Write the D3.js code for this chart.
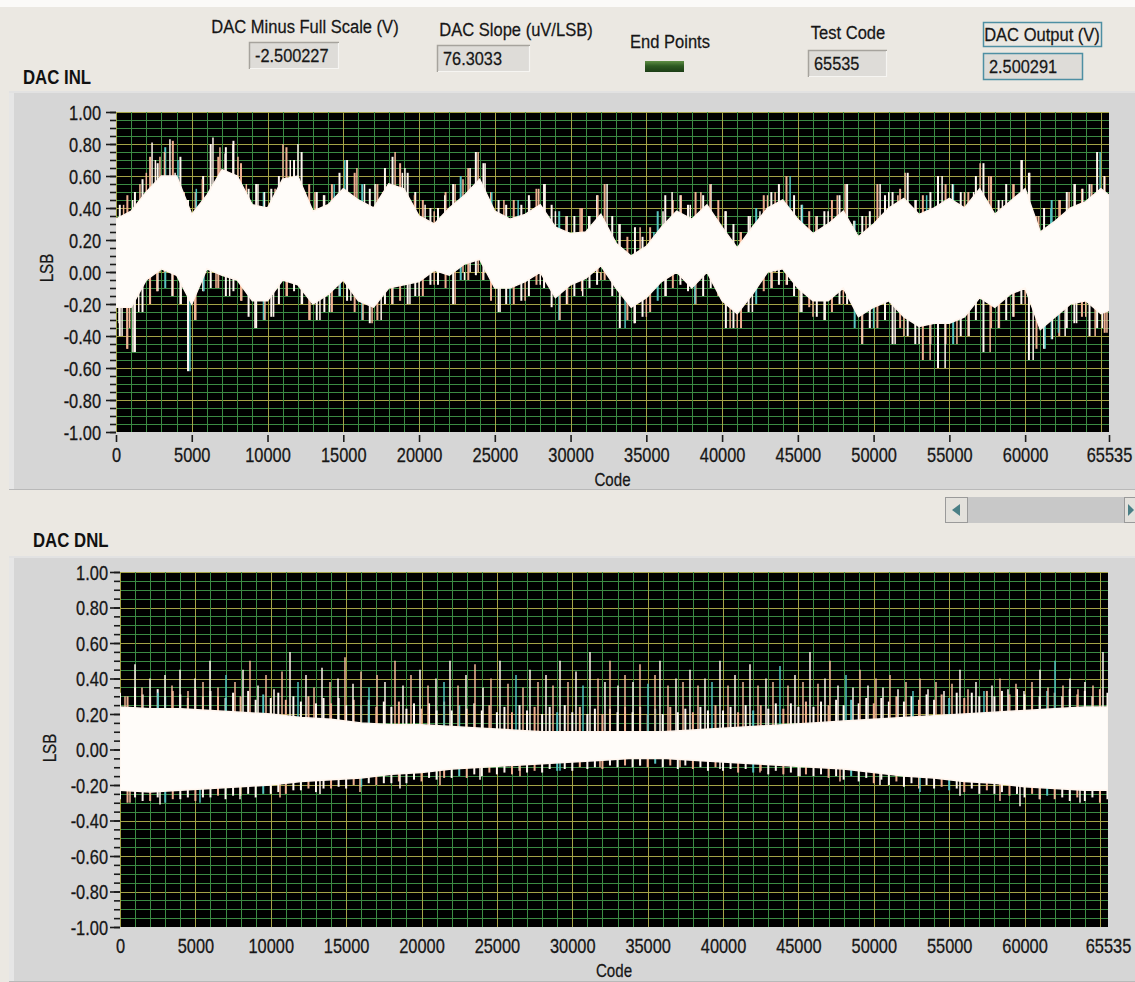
<!DOCTYPE html>
<html><head><meta charset="utf-8">
<script src="https://cdn.jsdelivr.net/npm/d3@7"></script>
<style>
html,body{margin:0;padding:0;background:#ebe8e2;overflow:hidden;}
svg{display:block;}
</style></head><body>
<svg id="c" width="1135" height="982"></svg>
<script>
// ---------------- DATA ----------------
const xTickValues = [0,5000,10000,15000,20000,25000,30000,35000,40000,45000,50000,55000,60000,65535];
const yTickValues = [1,0.8,0.6,0.4,0.2,0,-0.2,-0.4,-0.6,-0.8,-1];

const headerLabels = ["DAC Minus Full Scale (V)","DAC Slope (uV/LSB)","End Points","Test Code","DAC Output (V)"];
const headerValues = ["-2.500227","76.3033","","65535","2.500291"];

// INL solid core band, every 1000 codes
const inlCodes = [0,1000,2000,3000,4000,5000,6000,7000,8000,9000,10000,11000,12000,13000,14000,15000,16000,17000,18000,19000,20000,21000,22000,23000,24000,25000,26000,27000,28000,29000,30000,31000,32000,33000,34000,35000,36000,37000,38000,39000,40000,41000,42000,43000,44000,45000,46000,47000,48000,49000,50000,51000,52000,53000,54000,55000,56000,57000,58000,59000,60000,61000,62000,63000,64000,65000,65535];
const inlTop = [0.33,0.38,0.5,0.6,0.6,0.36,0.48,0.64,0.6,0.42,0.4,0.58,0.6,0.38,0.42,0.52,0.45,0.4,0.55,0.52,0.35,0.3,0.4,0.48,0.58,0.38,0.33,0.36,0.42,0.28,0.24,0.25,0.36,0.18,0.1,0.16,0.28,0.38,0.33,0.42,0.28,0.15,0.28,0.4,0.45,0.33,0.24,0.3,0.38,0.22,0.3,0.4,0.46,0.36,0.4,0.46,0.4,0.52,0.36,0.44,0.52,0.25,0.32,0.4,0.44,0.52,0.48];
const inlBottom = [-0.22,-0.22,-0.05,0.02,-0.02,-0.2,0.02,-0.02,-0.05,-0.18,-0.18,-0.05,-0.08,-0.2,-0.14,-0.05,-0.18,-0.22,-0.1,-0.08,-0.06,0.01,-0.02,0.05,0.08,-0.1,-0.1,-0.06,0,-0.16,-0.08,-0.04,0.04,-0.1,-0.22,-0.16,-0.06,0,-0.1,0,-0.18,-0.26,-0.14,0,0.02,-0.1,-0.18,-0.18,-0.1,-0.28,-0.22,-0.18,-0.28,-0.34,-0.32,-0.32,-0.28,-0.16,-0.22,-0.14,-0.1,-0.36,-0.28,-0.2,-0.18,-0.26,-0.24];
// INL ragged outer envelope, every 500 codes (codes 250, 750, ... 65250)
const inlFringeTop = [0.42,0.48,0.5,0.58,0.72,0.68,0.78,0.82,0.72,0.45,0.5,0.6,0.8,0.72,0.78,0.82,0.68,0.52,0.55,0.5,0.52,0.6,0.78,0.7,0.75,0.55,0.5,0.48,0.55,0.62,0.7,0.62,0.55,0.52,0.55,0.65,0.72,0.68,0.62,0.5,0.45,0.4,0.4,0.5,0.55,0.6,0.65,0.75,0.68,0.5,0.45,0.42,0.45,0.42,0.48,0.52,0.55,0.42,0.38,0.35,0.35,0.4,0.35,0.48,0.55,0.35,0.3,0.22,0.28,0.22,0.28,0.38,0.48,0.45,0.48,0.42,0.5,0.48,0.55,0.45,0.38,0.3,0.25,0.35,0.4,0.48,0.5,0.55,0.6,0.48,0.42,0.38,0.35,0.38,0.45,0.48,0.55,0.32,0.35,0.38,0.55,0.48,0.5,0.52,0.62,0.45,0.48,0.5,0.6,0.55,0.55,0.5,0.5,0.6,0.68,0.6,0.45,0.55,0.55,0.7,0.62,0.35,0.4,0.45,0.45,0.5,0.55,0.52,0.55,0.75,0.6];
const inlFringeBottom = [-0.4,-0.48,-0.5,-0.25,-0.2,-0.12,-0.1,-0.15,-0.2,-0.62,-0.3,-0.12,-0.1,-0.1,-0.15,-0.12,-0.18,-0.28,-0.35,-0.3,-0.28,-0.2,-0.15,-0.12,-0.2,-0.3,-0.3,-0.25,-0.25,-0.15,-0.18,-0.25,-0.3,-0.32,-0.3,-0.2,-0.2,-0.18,-0.2,-0.15,-0.15,-0.08,-0.08,-0.1,-0.2,-0.05,-0.05,-0.02,-0.05,-0.18,-0.25,-0.2,-0.2,-0.18,-0.15,-0.08,-0.1,-0.22,-0.3,-0.2,-0.15,-0.12,-0.1,-0.08,-0.05,-0.15,-0.35,-0.3,-0.32,-0.28,-0.25,-0.18,-0.15,-0.1,-0.08,-0.12,-0.2,-0.15,-0.1,-0.15,-0.35,-0.35,-0.35,-0.25,-0.2,-0.12,-0.1,-0.08,-0.08,-0.15,-0.25,-0.22,-0.28,-0.3,-0.25,-0.2,-0.2,-0.35,-0.45,-0.35,-0.35,-0.3,-0.45,-0.35,-0.4,-0.45,-0.55,-0.45,-0.6,-0.45,-0.45,-0.4,-0.4,-0.3,-0.5,-0.35,-0.35,-0.3,-0.28,-0.2,-0.55,-0.48,-0.48,-0.42,-0.4,-0.35,-0.32,-0.28,-0.4,-0.35,-0.38];
// INL tall individual spikes [code, LSB]
const inlSpikes = [[1580,0.55],[2380,0.81],[2900,0.72],[3560,0.83],[4090,0.7],[6400,0.84],[6860,0.78],[7720,0.8],[8050,0.72],[9370,0.55],[11020,0.8],[12010,0.8],[13130,0.5],[15100,0.7],[15900,0.65],[17100,0.55],[18420,0.75],[19070,0.65],[22380,0.55],[23370,0.65],[23900,0.75],[24360,0.68],[26540,0.45],[28320,0.55],[30630,0.4],[32410,0.55],[34590,0.28],[36700,0.5],[39210,0.55],[41850,0.35],[43500,0.5],[44490,0.6],[48120,0.55],[50430,0.55],[52080,0.62],[54520,0.6],[57030,0.68],[59800,0.7],[62310,0.45],[63300,0.55],[64950,0.75],[65220,0.6],
[500,0.42],[1100,0.45],[2000,0.62],[2600,0.7],[3200,0.75],[3900,0.62],[4500,0.5],[5300,0.52],[5700,0.58],[7200,0.74],[8600,0.55],[9800,0.5],[10500,0.52],[11500,0.7],[12500,0.5],[13700,0.48],[14400,0.55],[16400,0.55],[17600,0.5],[18900,0.62],[19700,0.48],[20400,0.42],[21000,0.38],[21700,0.48],[22900,0.58],[24800,0.5],[25600,0.45],[27300,0.45],[27900,0.52],[29000,0.38],[29700,0.35],[31200,0.35],[31800,0.48],[33200,0.3],[35500,0.25],[36100,0.38],[37300,0.48],[37900,0.42],[38600,0.5],[40200,0.38],[41200,0.25],[42500,0.38],[43000,0.48],[45300,0.42],[46200,0.35],[47000,0.38],[47600,0.48],[48700,0.32],[49500,0.35],[51000,0.5],[51600,0.48],[52800,0.45],[53500,0.48],[55200,0.55],[56000,0.5],[56600,0.5],[57600,0.6],[58500,0.45],[59200,0.55],[60300,0.62],[60900,0.35],[61700,0.4],[62900,0.5],[63800,0.52],[64400,0.55],
[400,-0.4],[730,-0.48],[1120,-0.5],[2240,-0.2],[3700,-0.15],[4880,-0.62],[9170,-0.35],[9830,-0.3],[13460,-0.3],[16900,-0.32],[19400,-0.2],[22380,-0.2],[25350,-0.25],[29300,-0.3],[33600,-0.35],[40530,-0.35],[45150,-0.25],[49240,-0.45],[51420,-0.45],[53730,-0.55],[54720,-0.6],[57690,-0.5],[60530,-0.55],[61320,-0.48],[62640,-0.4],[64620,-0.4],
[200,-0.32],[900,-0.35],[1500,-0.25],[2700,-0.12],[4300,-0.2],[5200,-0.3],[5800,-0.12],[6600,-0.1],[7500,-0.15],[8300,-0.18],[10400,-0.28],[11300,-0.15],[12300,-0.2],[12800,-0.3],[14100,-0.25],[14800,-0.15],[15500,-0.18],[16300,-0.3],[17500,-0.3],[18200,-0.2],[20000,-0.15],[21000,-0.08],[23000,-0.05],[24200,-0.05],[26000,-0.2],[27000,-0.18],[28000,-0.08],[29800,-0.2],[30800,-0.15],[32000,-0.05],[34200,-0.32],[35000,-0.28],[36300,-0.15],[38200,-0.2],[39600,-0.1],[41000,-0.35],[42000,-0.25],[43300,-0.1],[44300,-0.08],[46000,-0.28],[46800,-0.3],[48000,-0.2],[50000,-0.35],[52000,-0.4],[53000,-0.45],[55500,-0.45],[56300,-0.4],[58300,-0.35],[59200,-0.28],[60000,-0.2],[61800,-0.42],[62200,-0.38],[63400,-0.32],[64000,-0.28],[65100,-0.35],[65400,-0.38]];

// DNL solid core band, every 2000 codes
const dnlCodes = [0,2000,4000,6000,8000,10000,12000,14000,16000,18000,20000,22000,24000,26000,28000,30000,32000,34000,36000,38000,40000,42000,44000,46000,48000,50000,52000,54000,56000,58000,60000,62000,64000,65535];
const dnlTop = [0.24,0.23,0.23,0.22,0.21,0.2,0.18,0.17,0.15,0.14,0.14,0.13,0.12,0.11,0.1,0.1,0.1,0.1,0.1,0.11,0.12,0.13,0.14,0.15,0.16,0.17,0.18,0.19,0.2,0.21,0.22,0.23,0.24,0.24];
const dnlBottom = [-0.23,-0.24,-0.23,-0.22,-0.21,-0.2,-0.18,-0.17,-0.16,-0.14,-0.13,-0.11,-0.1,-0.09,-0.08,-0.07,-0.06,-0.05,-0.05,-0.06,-0.07,-0.08,-0.09,-0.1,-0.11,-0.13,-0.15,-0.16,-0.18,-0.19,-0.21,-0.22,-0.23,-0.23];
// DNL ragged outer envelope, every 500 codes (codes 0, 500, ... 65500)
const dnlFringeTop = [0.32,0.3,0.35,0.31,0.3,0.34,0.3,0.33,0.31,0.29,0.34,0.3,0.33,0.3,0.29,0.32,0.3,0.33,0.28,0.31,0.29,0.32,0.28,0.3,0.27,0.3,0.26,0.29,0.26,0.29,0.25,0.28,0.25,0.28,0.24,0.27,0.24,0.27,0.23,0.26,0.23,0.26,0.22,0.27,0.22,0.25,0.23,0.26,0.22,0.25,0.21,0.24,0.21,0.25,0.22,0.24,0.2,0.24,0.21,0.25,0.21,0.24,0.2,0.23,0.2,0.23,0.21,0.24,0.21,0.24,0.2,0.23,0.2,0.24,0.21,0.23,0.21,0.24,0.22,0.25,0.22,0.24,0.21,0.25,0.22,0.25,0.23,0.26,0.23,0.26,0.24,0.27,0.24,0.27,0.25,0.28,0.25,0.28,0.26,0.29,0.26,0.29,0.27,0.3,0.27,0.3,0.28,0.31,0.28,0.31,0.29,0.32,0.29,0.32,0.3,0.33,0.3,0.33,0.31,0.34,0.31,0.34,0.3,0.33,0.32,0.3,0.34,0.31,0.33,0.3,0.34,0.32];
const dnlFringeBottom = [-0.28,-0.3,-0.27,-0.29,-0.29,-0.27,-0.3,-0.28,-0.28,-0.27,-0.29,-0.27,-0.27,-0.26,-0.28,-0.26,-0.26,-0.25,-0.27,-0.25,-0.25,-0.24,-0.25,-0.23,-0.23,-0.22,-0.24,-0.22,-0.22,-0.21,-0.22,-0.2,-0.21,-0.19,-0.2,-0.19,-0.19,-0.18,-0.19,-0.17,-0.18,-0.16,-0.17,-0.16,-0.16,-0.15,-0.16,-0.14,-0.15,-0.13,-0.14,-0.13,-0.14,-0.12,-0.13,-0.12,-0.13,-0.11,-0.12,-0.11,-0.12,-0.1,-0.11,-0.1,-0.11,-0.09,-0.1,-0.09,-0.1,-0.09,-0.1,-0.08,-0.1,-0.09,-0.11,-0.09,-0.11,-0.1,-0.12,-0.1,-0.12,-0.11,-0.13,-0.11,-0.13,-0.12,-0.14,-0.12,-0.14,-0.13,-0.15,-0.14,-0.15,-0.14,-0.16,-0.15,-0.17,-0.15,-0.18,-0.16,-0.19,-0.17,-0.2,-0.18,-0.21,-0.19,-0.22,-0.2,-0.22,-0.21,-0.23,-0.22,-0.24,-0.22,-0.25,-0.23,-0.25,-0.24,-0.26,-0.25,-0.27,-0.25,-0.28,-0.26,-0.28,-0.27,-0.29,-0.27,-0.29,-0.27,-0.3,-0.28];
const dnlSpikes = [[332,0.3],[995,0.48],[1459,0.35],[1990,0.4],[2521,0.32],[2985,0.42],[3449,0.36],[3980,0.45],[4510,0.33],[4975,0.4],[5505,0.38],[5970,0.5],[6500,0.35],[7031,0.42],[7628,0.38],[8159,0.45],[8623,0.5],[9154,0.36],[9685,0.42],[10215,0.34],[10746,0.44],[11277,0.55],[11807,0.38],[12338,0.42],[12869,0.35],[13399,0.46],[13930,0.38],[14461,0.4],[14924,0.52],[15455,0.37],[15986,0.44],[16516,0.35],[17047,0.42],[17577,0.38],[18241,0.5],[18771,0.36],[19302,0.42],[19899,0.45],[20430,0.36],[20960,0.4],[21491,0.38],[21889,0.5],[22420,0.36],[22950,0.42],[23547,0.48],[24078,0.35],[24608,0.4],[25205,0.5],[25736,0.37],[26267,0.42],[26731,0.35],[27195,0.45],[27726,0.38],[28257,0.42],[28721,0.36],[29186,0.5],[29716,0.38],[30247,0.44],[30711,0.36],[31175,0.55],[31706,0.4],[32170,0.38],[32502,0.5],[33033,0.36],[33497,0.42],[34027,0.38],[34492,0.48],[35022,0.37],[35487,0.42],[35818,0.5],[36349,0.36],[36880,0.4],[37344,0.38],[37808,0.45],[38339,0.36],[38803,0.4],[39267,0.38],[39798,0.5],[40329,0.36],[40793,0.42],[41324,0.38],[41788,0.48],[42319,0.36],[42849,0.4],[43313,0.38],[43778,0.47],[44308,0.36],[44772,0.42],[45303,0.38],[45768,0.55],[46298,0.37],[46763,0.4],[47094,0.5],[47625,0.36],[48156,0.42],[48620,0.35],[49084,0.45],[49615,0.36],[50145,0.4],[50610,0.35],[51074,0.42],[51605,0.34],[52135,0.38],[52600,0.33],[53064,0.4],[53595,0.34],[54125,0.38],[54656,0.33],[55187,0.37],[55717,0.45],[56248,0.34],[56779,0.38],[57309,0.33],[57840,0.36],[58370,0.4],[58901,0.34],[59432,0.37],[59962,0.33],[60493,0.38],[61024,0.45],[61554,0.35],[62019,0.5],[62549,0.36],[63014,0.4],[63544,0.34],[64008,0.38],[64539,0.36],[65202,0.55],
[663,-0.3],[2653,-0.31],[5306,-0.3],[7960,-0.28],[10613,-0.27],[13266,-0.25],[15919,-0.24],[18572,-0.22],[21226,-0.2],[23879,-0.17],[26532,-0.15],[29185,-0.12],[31838,-0.1],[34492,-0.09],[37145,-0.1],[39798,-0.11],[42451,-0.13],[45104,-0.15],[47758,-0.18],[50411,-0.2],[53064,-0.24],[55717,-0.26],[58370,-0.29],[59697,-0.32],[61024,-0.28],[63677,-0.3],[65003,-0.29]];

// ---------------- FONT HANDLING ----------------
const FAM = '"Liberation Sans", Arial, sans-serif';
const svg = d3.select('#c');
function txt(parent, x, y, s, o){
  o = o||{};
  const sx = o.sx||0.84;
  return parent.append('text')
    .attr('transform', 'translate('+x+','+y+') rotate('+(o.rotate||0)+') scale('+sx+',1)')
    .attr('text-anchor', o.anchor||'start')
    .attr('font-family', FAM).attr('font-size', o.size||19)
    .attr('font-weight', o.weight||'normal')
    .attr('fill', o.fill||'#161616')
    .attr('stroke', o.weight==='bold'?'none':(o.fill||'#161616')).attr('stroke-width',0.25)
    .text(s);
}

// ---------------- BACKGROUND ----------------
svg.append('rect').attr('width',1135).attr('height',982).attr('fill','#ebe8e2');
svg.append('rect').attr('width',1135).attr('height',7).attr('fill','#fbfaf8');

function panel(y,h){
  svg.append('rect').attr('x',9).attr('y',y).attr('width',1126).attr('height',h).attr('fill','#d6d6d6');
  svg.append('rect').attr('x',9).attr('y',y).attr('width',5).attr('height',h).attr('fill','#e6e6e6');
  svg.append('rect').attr('x',9).attr('y',y).attr('width',1126).attr('height',2).attr('fill','#e2e2e2');
  svg.append('rect').attr('x',9).attr('y',y+h-1).attr('width',1126).attr('height',1).attr('fill','#b9b9b9');
}
panel(91,399);
panel(556,426);

// ---------------- HEADER ----------------
function valueBox(x,y,w,h,val,teal){
  svg.append('rect').attr('x',x).attr('y',y).attr('width',w).attr('height',h).attr('fill','#dedcd8');
  if(teal){
    svg.append('rect').attr('x',x+0.5).attr('y',y+0.5).attr('width',w-1).attr('height',h-1)
      .attr('fill','none').attr('stroke','#4e8fa3').attr('stroke-width',1.5);
  } else {
    svg.append('path').attr('d','M'+(x+0.5)+','+(y+h)+'V'+(y+0.5)+'H'+(x+w)).attr('stroke','#a6a39d').attr('stroke-width',1.5).attr('fill','none');
    svg.append('path').attr('d','M'+(x+1)+','+(y+h-0.5)+'H'+(x+w-0.5)+'V'+(y+1)).attr('stroke','#f6f5f2').attr('stroke-width',1.2).attr('fill','none');
  }
  txt(svg, x+6, y+h-7, val, {size:19, sx:0.86});
}
txt(svg, 305, 33, headerLabels[0], {anchor:'middle', size:19, sx:0.87});
valueBox(249,42,90,27,headerValues[0]);
txt(svg, 516, 36, headerLabels[1], {anchor:'middle', size:19, sx:0.87});
valueBox(437,45,93,27,headerValues[1]);
txt(svg, 670, 48, headerLabels[2], {anchor:'middle', size:19, sx:0.87});
const defs = svg.append('defs');
const lg = defs.append('linearGradient').attr('id','led').attr('x1',0).attr('y1',0).attr('x2',0).attr('y2',1);
lg.append('stop').attr('offset','0%').attr('stop-color','#5f8f45');
lg.append('stop').attr('offset','45%').attr('stop-color','#2d5a22');
lg.append('stop').attr('offset','100%').attr('stop-color','#1c3d16');
svg.append('rect').attr('x',645).attr('y',61).attr('width',39).attr('height',11).attr('fill','url(#led)');
txt(svg, 848, 39, headerLabels[3], {anchor:'middle', size:19, sx:0.87});
valueBox(808,50,79,27,headerValues[3]);
svg.append('rect').attr('x',983.5).attr('y',22.5).attr('width',118).attr('height',24).attr('fill','none').attr('stroke','#4e8fa3').attr('stroke-width',1.5);
txt(svg, 1042, 41, headerLabels[4], {anchor:'middle', size:19, sx:0.87});
valueBox(983,53,100,27,headerValues[4],true);

txt(svg, 23, 84, 'DAC INL', {size:20, weight:'bold', fill:'#111', sx:0.84});
txt(svg, 33, 547, 'DAC DNL', {size:20, weight:'bold', fill:'#111', sx:0.84});

// scrollbar
svg.append('rect').attr('x',945).attr('y',497).attr('width',190).attr('height',26).attr('fill','#c8c8c8');
svg.append('rect').attr('x',945.5).attr('y',497.5).attr('width',22).attr('height',25).attr('fill','#e3e1dc').attr('stroke','#9a9a9a');
svg.append('path').attr('d','M952,510 L960,504 L960,516 Z').attr('fill','#4a7f86');
svg.append('rect').attr('x',1124.5).attr('y',497.5).attr('width',22).attr('height',25).attr('fill','#e3e1dc').attr('stroke','#9a9a9a');
svg.append('path').attr('d','M1128,504 L1134,510 L1128,516 Z').attr('fill','#4a7f86');

// ---------------- CHART ----------------
function chart(cfg){
  const x = d3.scaleLinear().domain([0,65535]).range([cfg.x0,cfg.x1]);
  const y = d3.scaleLinear().domain([-1,1]).range([cfg.y1,cfg.y0]);
  const g = svg.append('g');
  const id = 'clip'+cfg.name;
  defs.append('clipPath').attr('id',id).append('rect')
    .attr('x',cfg.x0).attr('y',cfg.y0).attr('width',cfg.x1-cfg.x0).attr('height',cfg.y1-cfg.y0);
  g.append('rect').attr('x',cfg.x0).attr('y',cfg.y0).attr('width',cfg.x1-cfg.x0).attr('height',cfg.y1-cfg.y0).attr('fill','#000');
  const pg = g.append('g').attr('clip-path','url(#'+id+')');
  // grid
  const vMinor = d3.range(0,65536,1000);
  const hMinor = d3.range(-20,21).map(d=>d*0.05);
  pg.selectAll('.hv').data(hMinor).enter().append('line')
    .attr('x1',cfg.x0).attr('x2',cfg.x1).attr('y1',d=>Math.round(y(d))+0.5).attr('y2',d=>Math.round(y(d))+0.5)
    .attr('stroke',d=>Math.abs(Math.round(d*100)%20)===0?'#a4a347':'#3b8a43').attr('stroke-width',1);
  pg.selectAll('.vv').data(vMinor).enter().append('line')
    .attr('y1',cfg.y0).attr('y2',cfg.y1).attr('x1',d=>Math.round(x(d))+0.5).attr('x2',d=>Math.round(x(d))+0.5)
    .attr('stroke',d=>d%5000===0?'#a4a347':'#3b8a43').attr('stroke-width',1);
  // ragged fringe comb
  const fr = cfg.fringeCodes.map((c,i)=>({c:c,t:cfg.fringeTop[i],b:cfg.fringeBottom[i]}));
  pg.selectAll('.fr').data(fr).enter().append('line')
    .attr('x1',d=>x(d.c)).attr('x2',d=>x(d.c)).attr('y1',d=>y(d.t)).attr('y2',d=>y(d.b))
    .attr('stroke',(d,i)=>i%13===6?'#58c4c0':(i%3===1?'#efb092':'#fff6ef')).attr('stroke-width',2);
  // spikes
  pg.selectAll('.sp').data(cfg.spikes).enter().append('line')
    .attr('x1',d=>x(d[0])).attr('x2',d=>x(d[0])).attr('y1',d=>y(d[1])).attr('y2',y(0))
    .attr('stroke',(d,i)=>i%9===4?'#52c3c0':(i%2===0?'#f3b898':'#fff3ea')).attr('stroke-width',1.5);
  // core band
  const band = cfg.codes.map((c,i)=>({c:c,t:cfg.top[i],b:cfg.bottom[i]}));
  const area = d3.area().x(d=>x(d.c)).y0(d=>y(d.b)).y1(d=>y(d.t)).curve(d3.curveLinear);
  pg.append('path').datum(band).attr('d',area).attr('fill','#fffcf9')
    .attr('stroke','#fff6ef').attr('stroke-width',1.5);

  // axes
  const fmt = d=>d.toFixed(2);
  const yMinorAxis = d3.axisLeft(y).tickValues(hMinor).tickSize(cfg.minorTick).tickFormat('');
  const ya = g.append('g').attr('transform','translate('+cfg.x0+',0)').call(yMinorAxis);
  ya.select('.domain').remove();
  ya.selectAll('line').attr('stroke','#1a1a1a').attr('stroke-width',1.6);
  const yAxis = d3.axisLeft(y).tickValues(yTickValues).tickSize(10).tickPadding(cfg.yPad).tickFormat(fmt);
  const yb = g.append('g').attr('transform','translate('+cfg.x0+',0)').call(yAxis);
  yb.select('.domain').remove();
  yb.selectAll('line').attr('stroke','#1a1a1a').attr('stroke-width',1.6);
  yb.selectAll('text').attr('font-family',FAM).attr('font-size',20).attr('fill','#161616')
    .attr('stroke','#161616').attr('stroke-width',0.3)
    .attr('x',null).attr('dy','0.36em').attr('transform','translate('+(-10-cfg.yPad)+',0) scale(0.82,1)');

  const xAxis = d3.axisBottom(x).tickValues(xTickValues).tickSize(cfg.xTick).tickPadding(0).tickFormat(d=>String(d));
  const xb = g.append('g').attr('transform','translate(0,'+cfg.xAxisY+')').call(xAxis);
  xb.select('.domain').remove();
  xb.selectAll('line').attr('stroke','#1a1a1a').attr('stroke-width',1.6);
  xb.selectAll('text').attr('font-family',FAM).attr('font-size',20).attr('fill','#161616')
    .attr('stroke','#161616').attr('stroke-width',0.3)
    .attr('y',null).attr('dy',null).attr('transform','translate(0,'+cfg.xLabelDY+') scale(0.82,1)');

  txt(g, (cfg.x0+cfg.x1)/2, cfg.codeY, 'Code', {anchor:'middle', size:18, sx:0.84});
  txt(g, cfg.lsbX, cfg.lsbY, 'LSB', {anchor:'middle', size:18, rotate:-90, sx:0.84});
}

chart({name:'inl', x0:116, x1:1109, y0:112, y1:432, codes:inlCodes, top:inlTop, bottom:inlBottom, spikes:inlSpikes,
  fringeCodes:d3.range(250,65535,500), fringeTop:inlFringeTop, fringeBottom:inlFringeBottom,
  minorTick:6, yPad:5, xTick:7, xAxisY:435, xLabelDY:27, codeY:486, lsbX:53, lsbY:268});
chart({name:'dnl', x0:120, x1:1108, y0:572, y1:927, codes:dnlCodes, top:dnlTop, bottom:dnlBottom, spikes:dnlSpikes,
  fringeCodes:d3.range(0,65535,500), fringeTop:dnlFringeTop, fringeBottom:dnlFringeBottom,
  minorTick:6, yPad:2, xTick:0, xAxisY:927, xLabelDY:26, codeY:977, lsbX:56, lsbY:748});
</script>
</body></html>
